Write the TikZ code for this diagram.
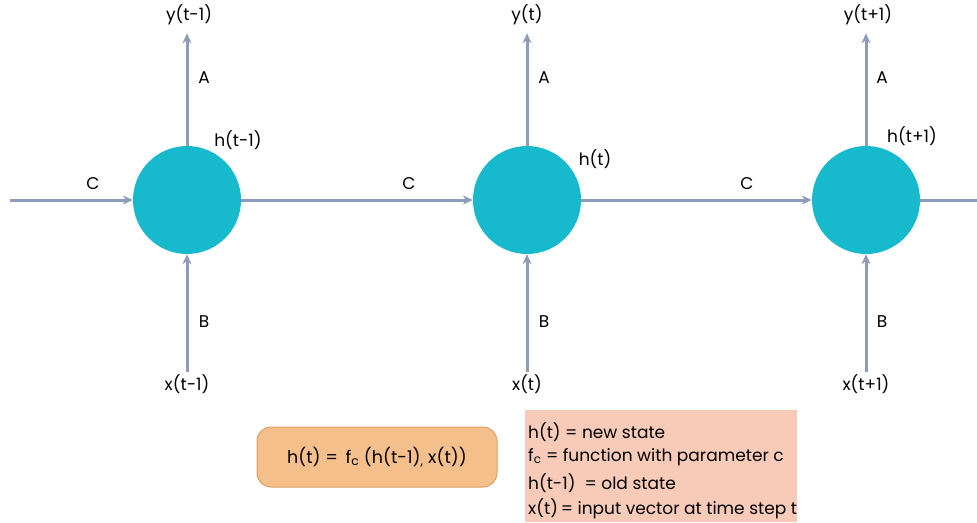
\documentclass[tikz,border=0pt]{standalone}
\usepackage{fontspec}
\setmainfont{Poppins}
\usetikzlibrary{positioning,arrows.meta}

\definecolor{cellblue}{HTML}{17B9CC}
\definecolor{linkgray}{HTML}{8C9CBA}
\definecolor{eqfill}{HTML}{F5BF8C}
\definecolor{eqdraw}{HTML}{DDA060}
\definecolor{notefill}{HTML}{F8CBB8}

\begin{document}
\begin{tikzpicture}[
    x=1pt, y=-1pt,
    cell/.style={circle, fill=cellblue, minimum size=108pt, inner sep=0pt},
    link/.style={line width=3pt, linkgray, -{Stealth[length=10pt,width=9pt]}},
    plainlink/.style={line width=3pt, linkgray},
    lbl/.style={font=\fontsize{17}{20}\selectfont, inner sep=2pt},
    eqbox/.style={rounded corners=14pt, fill=eqfill, draw=eqdraw, line width=1pt,
        minimum width=240pt, minimum height=60pt, font=\fontsize{17.5}{20}\selectfont},
    notebox/.style={fill=notefill, minimum width=272pt, minimum height=112pt}
]
    \useasboundingbox (0,0) rectangle (977,522);

    % Cells
    \node[cell] (h1) at (187,200) {};
    \node[cell] (h2) at (527,200) {};
    \node[cell] (h3) at (866,200) {};

    % Outputs and inputs
    \node[lbl] (y1) at (189,15) {y(t-1)};
    \node[lbl] (y2) at (527,15) {y(t)};
    \node[lbl] (y3) at (868,15) {y(t+1)};
    \node[lbl] (x1) at (187,384) {x(t-1)};
    \node[lbl] (x2) at (527,384) {x(t)};
    \node[lbl] (x3) at (866,384) {x(t+1)};

    % Ends of the chain
    \coordinate (c0) at (10,200);
    \coordinate (c4) at (977,200);

    % Output arrows (A)
    \draw[link, shorten >=6pt] (h1) -- (h1 |- y1.south);
    \draw[link, shorten >=6pt] (h2) -- (h2 |- y2.south);
    \draw[link, shorten >=6pt] (h3) -- (h3 |- y3.south);
    \node[lbl] at (204,78) {A};
    \node[lbl] at (544,78) {A};
    \node[lbl] at (882,78) {A};

    % Input arrows (B)
    \draw[link] (x1) -- (h1);
    \draw[link] (x2) -- (h2);
    \draw[link] (x3) -- (h3);
    \node[lbl] at (204,322) {B};
    \node[lbl] at (544,322) {B};
    \node[lbl] at (882,322) {B};

    % Recurrent arrows (C)
    \draw[link] (c0) -- (h1);
    \draw[link] (h1) -- (h2);
    \draw[link] (h2) -- (h3);
    \draw[plainlink] (h3) -- (c4);
    \node[lbl] at (93,184) {C};
    \node[lbl] at (409,184) {C};
    \node[lbl] at (747,184) {C};

    % State labels
    \node[lbl] at (238,140) {h(t-1)};
    \node[lbl] at (595,159) {h(t)};
    \node[lbl] at (912,136) {h(t+1)};

    % Equation
    \node[eqbox] (eq) at (377,457) {h(t) = \,f\textsubscript{c} (h(t-1)\textsubscript{,} x(t))};

    % Notes
    \node[notebox] (notes) at (661,466) {};
    \node[lbl, anchor=west] at (526,432) {h(t) = new state};
    \node[lbl, anchor=west] at (526,457) {f\textsubscript{c} = function with parameter c};
    \node[lbl, anchor=west] at (526,483) {h(t-1) \ = old state};
    \node[lbl, anchor=west] at (526,509) {x(t)\,= input vector at time step t};
\end{tikzpicture}
\end{document}
